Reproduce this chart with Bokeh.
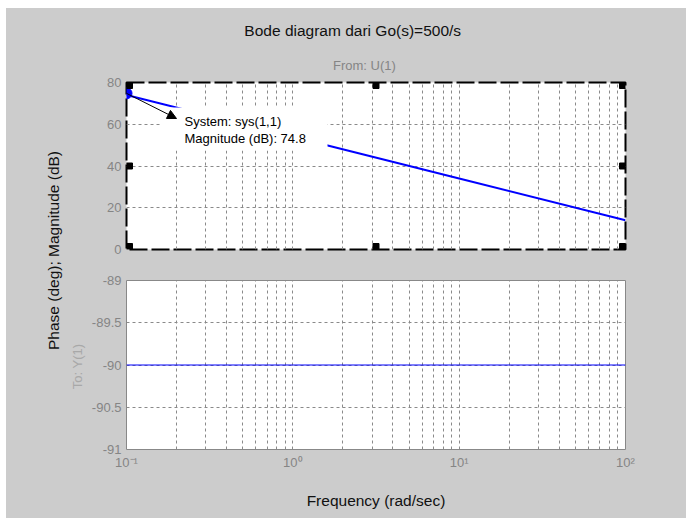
import math
from bokeh.plotting import figure
from bokeh.layouts import row, column
from bokeh.models import Range1d, FixedTicker, Label, Arrow, NormalHead, BoxAnnotation
from bokeh.embed import file_html
from bokeh.resources import INLINE

# ---------------- data ----------------
freq = [0.1, 1.0, 10.0, 100.0]            # rad/sec
magnitude_db = [74.0, 54.0, 34.0, 14.0]   # dB
phase_deg = [-90.0, -90.0, -90.0, -90.0]  # deg
tip_freq = [0.1]
tip_mag = [74.8]
x_major_ticks = [0.1, 1, 10, 100]
x_tick_labels = ["10\u207b\u00b9", "10\u2070", "10\u00b9", "10\u00b2"]
x_minor_ticks = [m * d for d in (0.1, 1, 10) for m in range(2, 10)]
mag_ticks = [0, 20, 40, 60, 80]
phase_ticks = [-91, -90.5, -90, -89.5, -89]
phase_tick_labels = ["-91", "-90.5", "-90", "-89.5", "-89"]
title_text = "Bode diagram dari Go(s)=500/s"
from_text = "From: U(1)"
to_text = "To: Y(1)"
ylabel_text = "Phase (deg); Magnitude (dB)"
xlabel_text = "Frequency (rad/sec)"
tip_lines = ["System: sys(1,1)", "Magnitude (dB): 74.8"]

# ---------------- style ----------------
FONT = "Liberation Sans"
BG = "#cccccc"
TICK_COL = "#858585"
GRID_COL = "#8a8a8a"
XMIN, XMAX = 0.1, 100.0
Y1MIN, Y1MAX = 0.0, 80.0
Y2MIN, Y2MAX = -91.0, -89.0
STRIP_W = 80          # page x 6..86
MAIN_W = 600          # page x 86..686
BL = 126 - 86         # left border of plots
BR = 686 - 625        # right border of plots

# page-pixel helpers (frame: x 126..625, top y 82..249)
def xd(px):
    return 10 ** (math.log10(XMIN) + (px - 126) / 499 * (math.log10(XMAX) - math.log10(XMIN)))

def y1d(py):
    return Y1MIN + (249 - py) / 167 * (Y1MAX - Y1MIN)


def bare(p):
    p.grid.visible = False
    p.outline_line_color = None
    p.border_fill_color = BG
    p.background_fill_color = BG


def style(p):
    p.border_fill_color = BG
    p.background_fill_color = "white"
    p.yaxis.axis_line_color = None
    p.yaxis.major_tick_line_color = None
    p.yaxis.minor_tick_line_color = None
    p.yaxis.major_label_text_font = FONT
    p.yaxis.major_label_text_font_size = "13px"
    p.yaxis.major_label_text_color = TICK_COL
    p.yaxis.major_label_standoff = 5
    p.yaxis.major_tick_out = 0
    p.yaxis.major_tick_in = 0
    for g in (p.xgrid[0], p.ygrid[0]):
        g.grid_line_color = GRID_COL
        g.grid_line_dash = "3 3"
        g.grid_line_width = 1
    p.xgrid[0].minor_grid_line_color = GRID_COL
    p.xgrid[0].minor_grid_line_dash = "3 3"


# ---------------- title strip ----------------
pt = figure(width=MAIN_W, height=66, x_range=Range1d(86, 686), y_range=Range1d(74, 8),
            x_axis_location=None, y_axis_location=None, min_border=0,
            toolbar_location=None, output_backend="svg")
bare(pt)
pt.add_layout(Label(x=358, y=30, text=title_text, text_font=FONT,
                    text_font_size="15.5px", text_color="#111111",
                    text_align="center", text_baseline="middle"))
pt.add_layout(Label(x=372, y=65, text=from_text, text_font=FONT,
                    text_font_size="13px", text_color=TICK_COL,
                    text_align="center", text_baseline="middle"))

# ---------------- top: magnitude ----------------
p1 = figure(width=MAIN_W, height=191, x_axis_type="log",
            x_range=Range1d(XMIN, XMAX), y_range=Range1d(Y1MIN, Y1MAX),
            min_border_left=BL, min_border_right=BR, min_border_top=8, min_border_bottom=16,
            toolbar_location=None, output_backend="svg")
style(p1)
xt1 = FixedTicker(ticks=x_major_ticks, minor_ticks=x_minor_ticks)
p1.xaxis.ticker = xt1
p1.xgrid[0].ticker = xt1
p1.xaxis.visible = False
p1.yaxis.ticker = FixedTicker(ticks=mag_ticks)
p1.outline_line_color = "black"
p1.outline_line_width = 2
p1.outline_line_dash = "18 4"

p1.line(freq, magnitude_db, line_color="#0000ff", line_width=2)

# data tip box
p1.add_layout(BoxAnnotation(left=xd(160), right=xd(327), top=y1d(107), bottom=y1d(150),
                            fill_color="white", fill_alpha=1, line_color=None))
p1.scatter(tip_freq, tip_mag, size=11, color="#0000ff")
p1.add_layout(Arrow(x_start=tip_freq[0], y_start=tip_mag[0], x_end=xd(176), y_end=y1d(118),
                    line_color="black", line_width=1,
                    end=NormalHead(size=9, fill_color="black", line_color="black")))
for i, t in enumerate(tip_lines):
    p1.add_layout(Label(x=xd(184), y=y1d(121 + 17 * i), text=t, text_font=FONT,
                        text_font_size="13px", text_color="black",
                        text_align="left", text_baseline="middle"))

# selection handles
xmid = math.sqrt(XMIN * XMAX)
ymid = (Y1MIN + Y1MAX) / 2
p1.rect([XMIN, XMIN, XMAX, XMAX], [Y1MIN, Y1MAX, Y1MIN, Y1MAX], width=12, height=12,
        width_units="screen", height_units="screen", color="black")
p1.rect([xmid, xmid], [Y1MIN, Y1MAX], width=6, height=12,
        width_units="screen", height_units="screen", color="black")
p1.rect([XMIN, XMAX], [ymid, ymid], width=12, height=6,
        width_units="screen", height_units="screen", color="black")

# ---------------- bottom: phase ----------------
p2 = figure(width=MAIN_W, height=253, x_axis_type="log",
            x_range=p1.x_range, y_range=Range1d(Y2MIN, Y2MAX),
            min_border_left=BL, min_border_right=BR, min_border_top=15, min_border_bottom=69,
            toolbar_location=None, output_backend="svg")
style(p2)
xt2 = FixedTicker(ticks=x_major_ticks, minor_ticks=x_minor_ticks)
p2.xaxis.ticker = xt2
p2.xgrid[0].ticker = xt2
p2.xaxis.major_label_overrides = {t: l for t, l in zip(x_major_ticks, x_tick_labels)}
p2.xaxis.axis_line_color = None
p2.xaxis.major_tick_line_color = None
p2.xaxis.minor_tick_line_color = None
p2.xaxis.major_tick_out = 0
p2.xaxis.major_tick_in = 0
p2.xaxis.major_label_text_font = FONT
p2.xaxis.major_label_text_font_size = "13px"
p2.xaxis.major_label_text_color = TICK_COL
p2.xaxis.major_label_standoff = 1
p2.xaxis.axis_label = xlabel_text
p2.xaxis.axis_label_text_font = FONT
p2.xaxis.axis_label_text_font_size = "15.5px"
p2.xaxis.axis_label_text_font_style = "normal"
p2.xaxis.axis_label_text_color = "#111111"
p2.xaxis.axis_label_standoff = 19
p2.yaxis.ticker = FixedTicker(ticks=phase_ticks)
p2.yaxis.major_label_overrides = {t: l for t, l in zip(phase_ticks, phase_tick_labels)}
p2.outline_line_color = "#888888"
p2.outline_line_width = 1

p2.line(freq, phase_deg, line_color="#0000ff", line_width=1)

# ---------------- left label strip ----------------
pl = figure(width=STRIP_W, height=510, x_range=Range1d(6, 86), y_range=Range1d(518, 8),
            x_axis_location=None, y_axis_location=None, min_border=0,
            toolbar_location=None, output_backend="svg")
bare(pl)
pl.add_layout(Label(x=53, y=250, text=ylabel_text, text_font=FONT,
                    text_font_size="15.5px", text_color="#111111", angle=math.pi / 2,
                    text_align="center", text_baseline="middle"))
pl.add_layout(Label(x=77, y=366, text=to_text, text_font=FONT,
                    text_font_size="13px", text_color="#a8a8a8", angle=math.pi / 2,
                    text_align="center", text_baseline="middle"))

root = row(pl, column(pt, p1, p2, spacing=0), spacing=0, margin=(8, 0, 0, 6))
root.styles = {"background-color": BG}

open("out.html", "w").write(file_html(root, INLINE))
